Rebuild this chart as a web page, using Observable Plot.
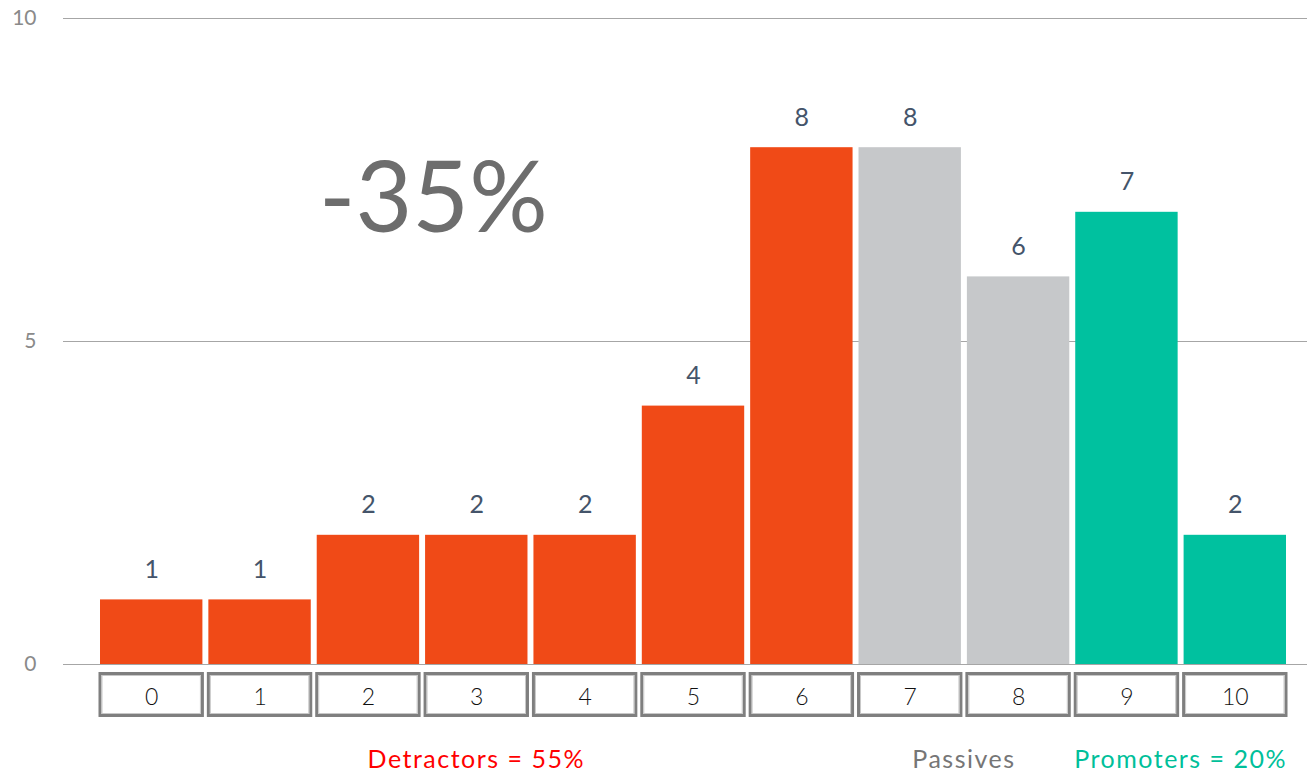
<!DOCTYPE html>
<html>
<head>
<meta charset="utf-8">
<script src="https://cdn.jsdelivr.net/npm/d3@7"></script>
<script src="https://cdn.jsdelivr.net/npm/@observablehq/plot@0.6"></script>
<style>
  html, body { margin: 0; padding: 0; background: #fff; }
  #chart svg { display: block; }
</style>
</head>
<body>
<div id="chart"></div>
<script>
// NPS survey: number of responses for each score 0–10
const scores = ["0", "1", "2", "3", "4", "5", "6", "7", "8", "9", "10"];
const counts = [1, 1, 2, 2, 2, 4, 8, 8, 6, 7, 2];
const groupOf = ["Detractors", "Detractors", "Detractors", "Detractors", "Detractors", "Detractors", "Detractors",
                 "Passives", "Passives", "Promoters", "Promoters"];
const yTicks = [0, 5, 10];

// Group summary shown under the axis
const groupNames = ["Detractors", "Passives", "Promoters"];
const groupLabels = ["Detractors = 55%", "Passives", "Promoters = 20%"];
const groupFirst = ["0", "7", "9"];
const groupLast = ["6", "8", "10"];
const groupText = ["#ff0000", "#767676", "#00bf9a"];
const barColors = ["#f04a17", "#c6c8ca", "#00c19f"];
const npsLabel = "-35%";

const data = scores.map((s, i) => ({score: s, count: counts[i], group: groupOf[i]}));

const font = "Lato, 'Open Sans', sans-serif";

const chart = Plot.plot({
  width: 1307,
  height: 773,
  marginLeft: 63,
  marginRight: 0,
  marginTop: 18,
  marginBottom: 109,
  style: {fontFamily: font, background: "#fff"},
  x: {domain: scores, paddingInner: 0.055, paddingOuter: 0, insetLeft: 37, insetRight: 21, round: false, axis: null},
  y: {domain: [0, 10], axis: null},
  color: {domain: groupNames, range: barColors},
  marks: [
    Plot.ruleY(yTicks, {stroke: "#a6a6a6", strokeWidth: 1}),
    Plot.axisY({ticks: yTicks, tickSize: 0, tickPadding: 27, label: null, fontSize: 21, fill: "#8a8a8a"}),
    Plot.barY(data, {x: "score", y: "count", fill: "group"}),
    Plot.text(data, {x: "score", y: "count", text: d => String(d.count), dy: -30,
                     fontSize: 25, fill: "#44546a"}),
    // score boxes below the baseline
    Plot.barY(data, {x: "score", y1: -0.147, y2: -0.797, fill: "#fff", stroke: "#7f7f7f", strokeWidth: 3}),
    Plot.barY(data, {x: "score", y1: -0.147, y2: -0.797, fill: "none", stroke: "#c8c8c8", strokeWidth: 1,
                     insetLeft: 2, insetRight: 2, insetTop: 2, insetBottom: 2}),
    Plot.text(data, {x: "score", y: -0.51, text: "score", fontSize: 23, fontWeight: 300, fill: "#111"}),
    // net promoter score
    Plot.text([npsLabel], {x: () => "2", y: 7.18, text: d => d, dx: 65, fontSize: 98,
                           fontWeight: 400, fill: "#6d6d6d"})
  ]
});

// Group labels centred under their score ranges
const xs = chart.scale("x");
const svg = d3.select(chart);
const bw = xs.bandwidth;
groupNames.forEach((g, i) => {
  const cx = (xs.apply(groupFirst[i]) + xs.apply(groupLast[i]) + bw) / 2;
  svg.append("text")
    .attr("x", cx)
    .attr("y", 762)
    .attr("text-anchor", "middle")
    .attr("dominant-baseline", "middle")
    .attr("font-family", font)
    .attr("font-size", 25)
    .attr("letter-spacing", "1.5px")
    .attr("fill", groupText[i])
    .text(groupLabels[i]);
});

document.getElementById("chart").appendChild(chart);
</script>
</body>
</html>
